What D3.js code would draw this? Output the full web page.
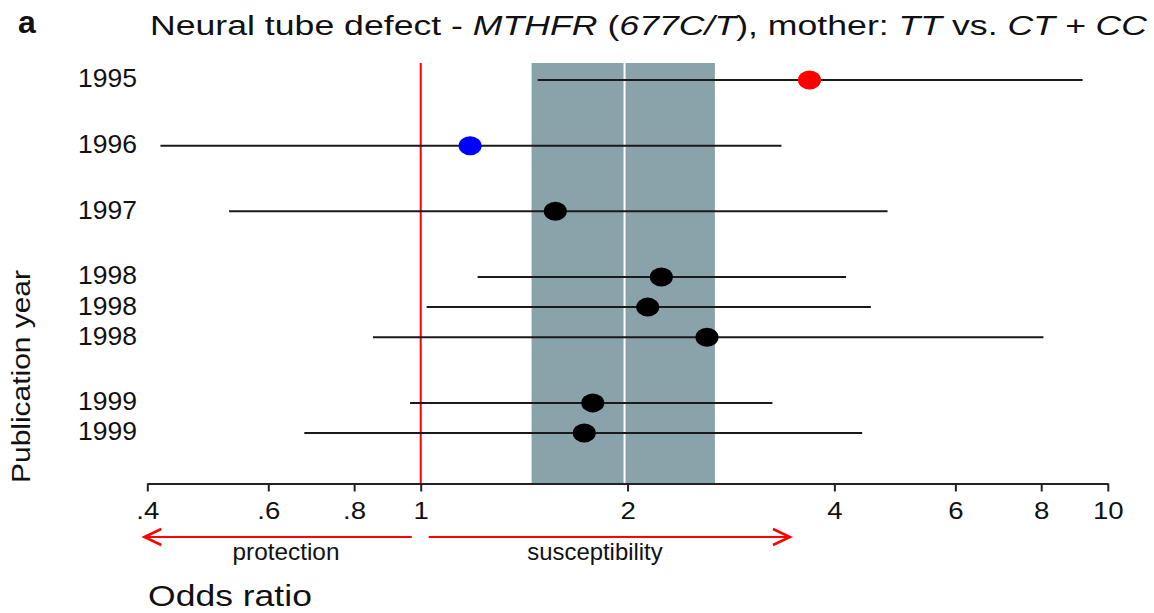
<!DOCTYPE html>
<html>
<head>
<meta charset="utf-8">
<script src="https://cdn.jsdelivr.net/npm/d3@7"></script>
<style>
  body { margin: 0; background: #fff; }
  svg { display: block; }
  text { font-family: "Liberation Sans", Arial, Helvetica, sans-serif; fill: #111; }
</style>
</head>
<body>
<svg id="chart" width="1154" height="613"></svg>
<script>
// Study-level odds ratios with 95% confidence intervals
const years = ["1995", "1996", "1997", "1998", "1998", "1998", "1999", "1999"];
const oddsRatios = [3.68, 1.18, 1.57, 2.24, 2.14, 2.61, 1.78, 1.73];
const ciLower = [1.48, 0.418, 0.526, 1.21, 1.02, 0.852, 0.965, 0.677];
const ciUpper = [9.19, 3.35, 4.78, 4.16, 4.52, 8.06, 3.25, 4.39];

// Pooled estimate and its confidence band
const pooledOR = 1.98;
const pooledLower = 1.45;
const pooledUpper = 2.68;

// Axis ticks
const tickValues = [0.4, 0.6, 0.8, 1, 2, 4, 6, 8, 10];
const tickLabels = [".4", ".6", ".8", "1", "2", "4", "6", "8", "10"];

const svg = d3.select("#chart");
const plotTop = 63, plotBottom = 483.5;

const x = d3.scaleLog().domain([0.4, 10]).range([147.3, 1107.8]);

// Rows of the same year sit close together; a new year opens a wider gap
const groupGap = 1.18;
let grp = -1, prevYear = null;
const slots = years.map((yr, i) => {
  if (yr !== prevYear) { grp++; prevYear = yr; }
  return i + grp * groupGap;
});
const y = d3.scaleLinear().domain([0, d3.max(slots)]).range([80, 433]);

const rows = years.map((yr, i) => ({
  year: yr, or: oddsRatios[i], lo: ciLower[i], hi: ciUpper[i], slot: slots[i]
}));
const maxOR = d3.max(oddsRatios), minOR = d3.min(oddsRatios);
const dotColor = d => d.or === maxOR ? "#ff0000" : d.or === minOR ? "#0000ff" : "#000";

// Horizontally stretch a text element around its anchor to a given width
function fitWidth(sel, width) {
  const w = sel.node().getBBox().width;
  const k = width / w;
  const ax = +sel.attr("x") || 0;
  sel.attr("transform", `translate(${ax * (1 - k)},0) scale(${k},1)`);
}

// Pooled confidence band
svg.append("rect")
  .attr("x", x(pooledLower))
  .attr("y", plotTop)
  .attr("width", x(pooledUpper) - x(pooledLower))
  .attr("height", plotBottom - plotTop)
  .attr("fill", "#8aa2aa");

svg.append("line")
  .attr("x1", x(pooledOR)).attr("x2", x(pooledOR))
  .attr("y1", plotTop).attr("y2", plotBottom)
  .attr("stroke", "#fff").attr("stroke-width", 2);

// Line of no effect
svg.append("line")
  .attr("x1", x(1)).attr("x2", x(1))
  .attr("y1", plotTop).attr("y2", plotBottom)
  .attr("stroke", "#ff0000").attr("stroke-width", 2);

// Confidence intervals
svg.append("g").selectAll("line").data(rows).join("line")
  .attr("x1", d => x(d.lo)).attr("x2", d => x(d.hi))
  .attr("y1", d => y(d.slot)).attr("y2", d => y(d.slot))
  .attr("stroke", "#1a1a1a").attr("stroke-width", 2);

// Point estimates
svg.append("g").selectAll("ellipse").data(rows).join("ellipse")
  .attr("cx", d => x(d.or)).attr("cy", d => y(d.slot))
  .attr("rx", 11.5).attr("ry", 9.5)
  .attr("fill", dotColor);

// Year labels
svg.append("g").selectAll("text").data(rows).join("text")
  .attr("x", 137).attr("y", d => y(d.slot) + 7.5)
  .attr("text-anchor", "end")
  .attr("font-size", 25)
  .text(d => d.year)
  .each(function () { fitWidth(d3.select(this), 59); });

// X axis
const axis = svg.append("g")
  .attr("transform", `translate(0,${plotBottom})`)
  .call(d3.axisBottom(x)
    .tickValues(tickValues)
    .tickFormat((d, i) => tickLabels[i])
    .tickSize(8)
    .tickSizeOuter(0));
axis.select(".domain").attr("stroke", "#222").attr("stroke-width", 2);
axis.selectAll(".tick line").attr("stroke", "#222").attr("stroke-width", 2);
axis.selectAll(".tick text")
  .attr("y", 19)
  .attr("font-size", 23)
  .attr("font-family", "Liberation Sans, Arial, sans-serif")
  .attr("fill", "#111")
  .attr("transform", "scale(1.2,1)");

// Direction arrows below the axis
const arrowY = 537;
function arrow(x0, x1) {
  const dir = Math.sign(x1 - x0);
  svg.append("line")
    .attr("x1", x0).attr("x2", x1).attr("y1", arrowY).attr("y2", arrowY)
    .attr("stroke", "#ff0000").attr("stroke-width", 2);
  svg.append("path")
    .attr("d", `M${x1 - dir * 17},${arrowY - 8}L${x1},${arrowY}L${x1 - dir * 17},${arrowY + 8}`)
    .attr("fill", "none").attr("stroke", "#ff0000").attr("stroke-width", 2.5);
}
arrow(x(1) - 9, x(0.4) - 3);
arrow(x(1) + 8, 790);

const prot = svg.append("text")
  .attr("x", 286).attr("y", 560).attr("text-anchor", "middle")
  .attr("font-size", 23).text("protection");
fitWidth(prot, 107);
const susc = svg.append("text")
  .attr("x", 595).attr("y", 560).attr("text-anchor", "middle")
  .attr("font-size", 23).text("susceptibility");
fitWidth(susc, 136);

// Axis titles
const xTitle = svg.append("text")
  .attr("x", 148).attr("y", 606)
  .attr("font-size", 29).text("Odds ratio");
fitWidth(xTitle, 164);

const yTitleG = svg.append("g").attr("transform", "translate(30,376.5) rotate(-90)");
const yTitle = yTitleG.append("text")
  .attr("x", 0).attr("y", 0).attr("text-anchor", "middle")
  .attr("font-size", 25).text("Publication year");
fitWidth(yTitle, 213);

// Panel letter and title
svg.append("text")
  .attr("x", 18).attr("y", 33)
  .attr("font-size", 32).attr("font-weight", "bold")
  .text("a");

const title = svg.append("text")
  .attr("x", 150).attr("y", 35)
  .attr("font-size", 27);
title.append("tspan").text("Neural tube defect - ");
title.append("tspan").attr("font-style", "italic").text("MTHFR");
title.append("tspan").text(" (");
title.append("tspan").attr("font-style", "italic").text("677C/T");
title.append("tspan").text("), mother: ");
title.append("tspan").attr("font-style", "italic").text("TT");
title.append("tspan").text(" vs. ");
title.append("tspan").attr("font-style", "italic").text("CT + CC");
fitWidth(title, 998);
</script>
</body>
</html>
